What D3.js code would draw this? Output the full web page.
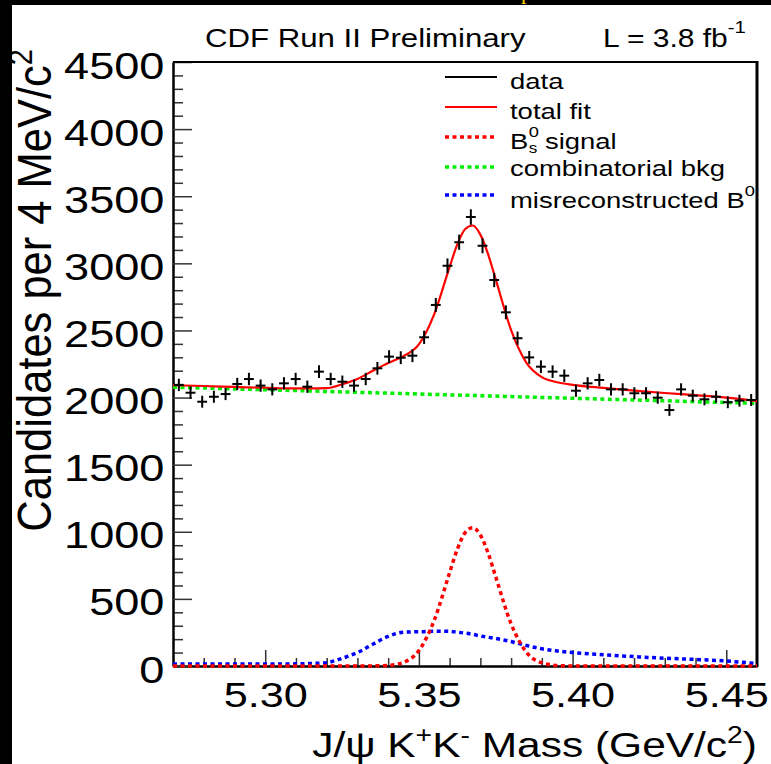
<!DOCTYPE html>
<html><head><meta charset="utf-8">
<script src="https://cdn.jsdelivr.net/npm/d3@7/dist/d3.min.js"></script>
<style>html,body{margin:0;padding:0;background:#000;} svg{display:block;}</style>
</head><body>
<svg id="c" width="771" height="764"></svg>
<script>
// ---- data ----
const massBins = [5.2719,5.2757,5.2795,5.2833,5.2871,5.2909,5.2947,5.2985,5.3023,5.3061,
  5.3099,5.3137,5.3175,5.3213,5.3251,5.3289,5.3327,5.3365,5.3403,5.3441,
  5.3479,5.3517,5.3555,5.3593,5.3631,5.3669,5.3707,5.3745,5.3783,5.3821,
  5.3859,5.3897,5.3935,5.3973,5.4011,5.4049,5.4087,5.4125,5.4163,5.4201,
  5.4239,5.4277,5.4315,5.4353,5.4391,5.4429,5.4467,5.4505,5.4543,5.4581];
const counts = [2094,2036,1969,2006,2026,2101,2138,2089,2061,2106,
  2138,2081,2193,2138,2118,2089,2138,2218,2305,2297,
  2312,2449,2690,2982,3157,3345,3131,2876,2635,2442,
  2299,2230,2193,2163,2051,2106,2131,2061,2061,2032,
  2032,1999,1907,2061,2014,1987,2006,1965,1977,1982];
const binHalfWidth = 0.0016;

const fitMass = [5.270,5.280,5.290,5.300,5.310,5.315,5.320,5.325,5.330,5.335,
  5.340,5.345,5.350,5.355,5.360,5.3625,5.365,5.3675,5.370,5.3725,
  5.375,5.380,5.385,5.390,5.395,5.400,5.410,5.420,5.430,5.440,5.450,5.460];
const totalFit = [2092,2086,2079,2073,2068,2068,2070,2099,2139,2199,
  2257,2309,2396,2622,2974,3141,3254,3282,3214,3069,
  2880,2503,2259,2152,2114,2095,2072,2052,2034,2018,2000,1975];
const bsSignal = [0,0,0,0,0,0,0,0,0,1,
  4,27,115,341,696,870,992,1030,976,843,
  664,314,102,23,4,0,0,0,0,0,0,0];
const combBkg = [2077,2071,2064,2058,2052,2049,2045,2042,2039,2036,
  2033,2030,2026,2023,2020,2019,2017,2016,2014,2012,
  2011,2007,2004,2001,1998,1995,1988,1982,1976,1969,1963,1957];
const misB0 = [15,15,15,15,16,19,25,57,100,162,
  220,252,255,258,258,252,245,236,224,214,
  205,182,153,128,112,100,84,70,58,49,37,18];

const xMajor = [5.30,5.35,5.40,5.45];
const xTickLabels = ["5.30","5.35","5.40","5.45"];
const xMinor = [5.28,5.29,5.31,5.32,5.33,5.34,5.36,5.37,5.38,5.39,5.41,5.42,5.43,5.44];
const yMajor = [0,500,1000,1500,2000,2500,3000,3500,4000,4500];
const yTickLabels = ["0","500","1000","1500","2000","2500","3000","3500","4000","4500"];
const yMinor = d3.range(100,4500,100).filter(v => v % 500 !== 0);

const legendItems = [
  {label:"data", color:"#000", dash:null},
  {label:"total fit", color:"#ff0000", dash:null},
  {label:"Bs", color:"#ff0000", dash:"4,3.5"},
  {label:"combinatorial bkg", color:"#00ee00", dash:"4,3.5"},
  {label:"misreconstructed B", color:"#0000ff", dash:"4,3.5"}
];

// ---- drawing ----
const W = 771, H = 764;
const FONT = "'Liberation Sans', Arial, Helvetica, sans-serif";
const svg = d3.select("#c");
svg.append("rect").attr("width", W).attr("height", H).attr("fill", "#000");
svg.append("rect").attr("x", 12).attr("y", 5).attr("width", W - 12).attr("height", H - 5).attr("fill", "#fff");

// clipped yellow text fragment at the top edge
svg.append("text").attr("x", 521).attr("y", -1).attr("font-family", "'Liberation Serif', serif")
  .attr("font-size", 22).attr("fill", "#f2d200").text("p");

const x = d3.scaleLinear().domain([5.27, 5.46]).range([173, 757]);
const y = d3.scaleLinear().domain([0, 4500]).range([666, 62]);

function hText(parent, tx, ty, sx, fs, anchor) {
  const g = parent.append("g").attr("transform", `translate(${tx},${ty}) scale(${sx},1)`);
  return g.append("text").attr("x", 0).attr("y", 0).attr("font-family", FONT)
    .attr("font-size", fs).attr("fill", "#000").attr("text-anchor", anchor || "start");
}

// axes
const xAxisMinor = d3.axisBottom(x).tickValues(xMinor).tickSize(-8).tickSizeOuter(0).tickFormat("");
const xAxisMajor = d3.axisBottom(x).tickValues(xMajor).tickSize(-16).tickSizeOuter(0)
  .tickFormat((d, i) => xTickLabels[i]).tickPadding(0);
const gxm = svg.append("g").attr("transform", "translate(0,666)").call(xAxisMinor);
const gx = svg.append("g").attr("transform", "translate(0,666)").call(xAxisMajor);
[gxm, gx].forEach(g => {
  g.select(".domain").attr("stroke", "#000").attr("stroke-width", 2);
  g.selectAll(".tick line").attr("stroke", "#333").attr("stroke-width", 1.5);
});
gx.selectAll(".tick text").attr("y", 41).attr("dy", null).attr("font-size", 36)
  .attr("font-family", FONT).attr("fill", "#000").attr("transform", "scale(1.2,1)");

const yAxisMinor = d3.axisLeft(y).tickValues(yMinor).tickSize(-10).tickSizeOuter(0).tickFormat("");
const yAxisMajor = d3.axisLeft(y).tickValues(yMajor).tickSize(-19).tickSizeOuter(0)
  .tickFormat((d, i) => yTickLabels[i]).tickPadding(0);
const gym = svg.append("g").attr("transform", "translate(173,0)").call(yAxisMinor);
const gy = svg.append("g").attr("transform", "translate(173,0)").call(yAxisMajor);
[gym, gy].forEach(g => {
  g.select(".domain").attr("stroke", "#000").attr("stroke-width", 2);
  g.selectAll(".tick line").attr("stroke", "#333").attr("stroke-width", 1.5);
});
gy.selectAll(".tick text").attr("x", -7).attr("dy", null).attr("y", 16).attr("font-size", 37)
  .attr("font-family", FONT).attr("fill", "#000").attr("text-anchor", "end")
  .attr("transform", "scale(1.22,1)");

// frame top & right
svg.append("line").attr("x1", 173).attr("x2", 758).attr("y1", 62).attr("y2", 62)
  .attr("stroke", "#000").attr("stroke-width", 1.8);
svg.append("line").attr("x1", 757).attr("x2", 757).attr("y1", 61).attr("y2", 667)
  .attr("stroke", "#000").attr("stroke-width", 3);

// curves
const fitRows = fitMass.map((m, i) => ({m, tot: totalFit[i], sig: bsSignal[i], comb: combBkg[i], mis: misB0[i]}));
const lineOf = key => d3.line().x(d => x(d.m)).y(d => y(d[key])).curve(d3.curveMonotoneX);
const plot = svg.append("g");
plot.append("path").datum(fitRows).attr("d", lineOf("comb")).attr("fill", "none")
  .attr("stroke", "#00ee00").attr("stroke-width", 3.5).attr("stroke-dasharray", "4,3.5");
plot.append("path").datum(fitRows).attr("d", lineOf("mis")).attr("fill", "none")
  .attr("stroke", "#0000ff").attr("stroke-width", 3.5).attr("stroke-dasharray", "4,3.5");
plot.append("path").datum(fitRows).attr("d", lineOf("sig")).attr("fill", "none")
  .attr("stroke", "#ff0000").attr("stroke-width", 3.5).attr("stroke-dasharray", "4,3.5");
plot.append("path").datum(fitRows).attr("d", lineOf("tot")).attr("fill", "none")
  .attr("stroke", "#ff0000").attr("stroke-width", 2.2);

// data points with error bars
const pts = plot.append("g").selectAll("g").data(massBins.map((m, i) => ({m, n: counts[i]}))).join("g");
pts.append("line").attr("x1", d => x(d.m - binHalfWidth)).attr("x2", d => x(d.m + binHalfWidth))
  .attr("y1", d => y(d.n)).attr("y2", d => y(d.n)).attr("stroke", "#000").attr("stroke-width", 2);
pts.append("line").attr("x1", d => x(d.m)).attr("x2", d => x(d.m))
  .attr("y1", d => y(d.n - Math.sqrt(d.n))).attr("y2", d => y(d.n + Math.sqrt(d.n)))
  .attr("stroke", "#000").attr("stroke-width", 2);

// title texts
hText(svg, 205, 47, 1.2, 26).text("CDF Run II Preliminary");
const lt = hText(svg, 603, 47, 1.2, 25);
lt.append("tspan").text("L = 3.8 fb");
lt.append("tspan").attr("font-size", 17).attr("dy", -14).text("-1");

// legend
const legY = [77, 107, 137, 167, 195];
const legBase = [89, 119, 149, 176, 208];
legendItems.forEach((it, i) => {
  const ln = svg.append("line").attr("x1", 445).attr("x2", 497).attr("y1", legY[i]).attr("y2", legY[i])
    .attr("stroke", it.color).attr("stroke-width", it.dash ? 3.5 : 2);
  if (it.dash) ln.attr("stroke-dasharray", it.dash);
});
hText(svg, 510, legBase[0], 1.22, 22.5).text(legendItems[0].label);
hText(svg, 510, legBase[1], 1.22, 22.5).text(legendItems[1].label);
{
  const g = svg.append("g").attr("transform", `translate(510,${legBase[2]}) scale(1.22,1)`);
  g.append("text").attr("font-family", FONT).attr("font-size", 22.5).text("B");
  g.append("text").attr("x", 15.3).attr("y", 3.5).attr("font-family", FONT).attr("font-size", 14).text("s");
  g.append("text").attr("x", 15.3).attr("y", -12).attr("font-family", FONT).attr("font-size", 15).text("0");
  g.append("text").attr("x", 28.7).attr("font-family", FONT).attr("font-size", 22.5).text("signal");
}
hText(svg, 510, legBase[3], 1.22, 22.5).text(legendItems[3].label);
{
  const t = hText(svg, 510, legBase[4], 1.22, 22.5);
  t.append("tspan").text(legendItems[4].label);
  t.append("tspan").attr("font-size", 15).attr("dy", -12).text("0");
}

// x axis title
{
  const t = hText(svg, 757, 757, 1.18, 36, "end");
  t.append("tspan").text("J/\u03c8 K");
  t.append("tspan").attr("font-size", 24).attr("dy", -14).text("+");
  t.append("tspan").attr("dy", 14).text("K");
  t.append("tspan").attr("font-size", 24).attr("dy", -14).text("-");
  t.append("tspan").attr("dy", 14).text(" Mass (GeV/c");
  t.append("tspan").attr("font-size", 24).attr("dy", -14).text("2");
  t.append("tspan").attr("dy", 14).text(")");
}
// y axis title (slightly condensed look: stretched across its glyph height)
{
  const g = svg.append("g").attr("transform", "translate(51,49) scale(1.12,1) rotate(-90)");
  const t = g.append("text").attr("font-family", FONT).attr("font-size", 43.5).attr("text-anchor", "end");
  t.append("tspan").text("Candidates per 4 MeV/c");
  t.append("tspan").attr("font-size", 29).attr("dy", -17).text("2");
}
</script>
</body></html>
